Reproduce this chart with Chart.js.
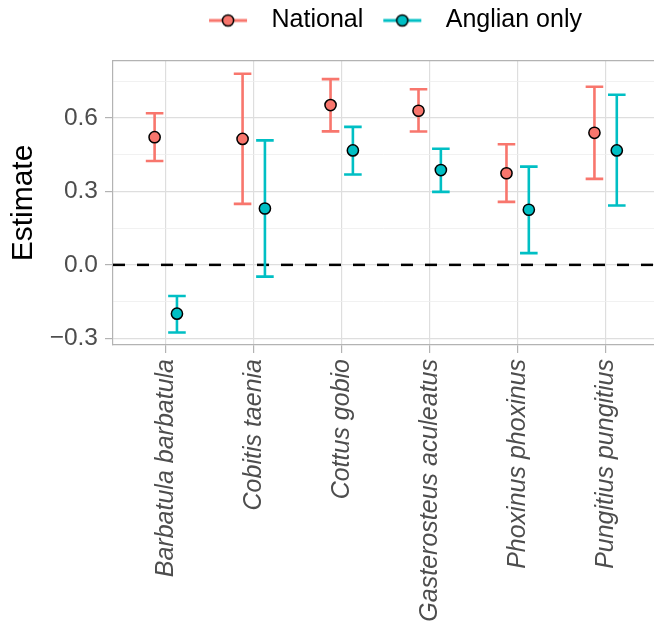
<!DOCTYPE html>
<html>
<head>
<meta charset="utf-8">
<script src="https://cdn.jsdelivr.net/npm/chart.js@4.4.1/dist/chart.umd.min.js"></script>
<style>
    body { margin: 0; background: #fff; }
</style>
</head>
<body>
<canvas id="grafico" width="654" height="625"></canvas>
<script>
// dados
const especies = ["Barbatula barbatula", "Cobitis taenia", "Cottus gobio", "Gasterosteus aculeatus", "Phoxinus phoxinus", "Pungitius pungitius"];
const series = ["National", "Anglian only"];

const nacional = [0.521, 0.514, 0.652, 0.629, 0.374, 0.539];
const nacionalMin = [0.424, 0.249, 0.545, 0.544, 0.257, 0.351];
const nacionalMax = [0.619, 0.780, 0.758, 0.717, 0.492, 0.727];

const anglian = [-0.199, 0.230, 0.467, 0.387, 0.225, 0.467];
const anglianMin = [-0.276, -0.048, 0.369, 0.298, 0.048, 0.242];
const anglianMax = [-0.127, 0.508, 0.563, 0.474, 0.401, 0.694];

const yTicks = [-0.3, 0, 0.3, 0.6];
const yMinor = [-0.15, 0.15, 0.45, 0.75];
const linhaRef = 0;

// estilo
const cores = ["#F8766D", "#00BFC4"];
const dodge = 0.127;
const capMeio = 0.1;
const cinzaBorda = "#B3B3B3";
const cinzaTexto = "#4D4D4D";

Chart.defaults.font.family = '"Liberation Sans", Arial, sans-serif';

function montaPontos(valores, minimos, maximos, desloc) {
    return valores.map((v, i) => ({ x: i + desloc, y: v, yMin: minimos[i], yMax: maximos[i] }));
}

function simboloLegenda(cor) {
    let c = document.createElement("canvas");
    c.width = 62;
    c.height = 20;
    let g = c.getContext("2d");
    g.strokeStyle = cor;
    g.lineWidth = 3;
    g.beginPath();
    g.moveTo(12, 10);
    g.lineTo(50, 10);
    g.stroke();
    g.beginPath();
    g.arc(31, 10, 5.6, 0, 2 * Math.PI);
    g.fillStyle = cor;
    g.fill();
    g.lineWidth = 1.5;
    g.strokeStyle = "#000";
    g.stroke();
    return c;
}

const simbolos = cores.map(simboloLegenda);

// linha do zero e barras de erro, desenhadas antes dos pontos
const barrasDeErro = {
    id: "barrasDeErro",
    afterLayout(chart) {
        // centraliza a legenda um pouco mais a direita, como no original
        chart.legend.left += 6;
        chart.legend.right += 6;
    },
    beforeDatasetsDraw(chart) {
        let ctx = chart.ctx;
        let x = chart.scales.x;
        let y = chart.scales.y;
        let area = chart.chartArea;
        ctx.save();

        ctx.strokeStyle = "#000";
        ctx.lineWidth = 2.5;
        ctx.setLineDash([12, 12]);
        ctx.beginPath();
        ctx.moveTo(area.left, y.getPixelForValue(linhaRef));
        ctx.lineTo(area.right, y.getPixelForValue(linhaRef));
        ctx.stroke();
        ctx.setLineDash([]);

        chart.data.datasets.forEach(ds => {
            ctx.strokeStyle = ds.backgroundColor;
            ctx.lineWidth = 2.6;
            ds.data.forEach(p => {
                let px = x.getPixelForValue(p.x);
                let esq = x.getPixelForValue(p.x - capMeio);
                let dir = x.getPixelForValue(p.x + capMeio);
                let topo = y.getPixelForValue(p.yMax);
                let base = y.getPixelForValue(p.yMin);
                ctx.beginPath();
                ctx.moveTo(px, topo);
                ctx.lineTo(px, base);
                ctx.moveTo(esq, topo);
                ctx.lineTo(dir, topo);
                ctx.moveTo(esq, base);
                ctx.lineTo(dir, base);
                ctx.stroke();
            });
        });
        ctx.restore();
    }
};

const ehMaior = v => yTicks.includes(v);

function semPadding(s) {
    s.paddingLeft = 0;
    s.paddingRight = 0;
    s.paddingTop = 0;
    s.paddingBottom = 0;
}

new Chart("grafico", {
    type: "scatter",
    data: {
        datasets: [
            {
                label: series[0],
                data: montaPontos(nacional, nacionalMin, nacionalMax, -dodge),
                backgroundColor: cores[0],
                borderColor: "#000",
                pointRadius: 5.6,
                pointHoverRadius: 5.6,
                pointBorderWidth: 1.5
            },
            {
                label: series[1],
                data: montaPontos(anglian, anglianMin, anglianMax, dodge),
                backgroundColor: cores[1],
                borderColor: "#000",
                pointRadius: 5.6,
                pointHoverRadius: 5.6,
                pointBorderWidth: 1.5
            }
        ]
    },
    options: {
        responsive: false,
        animation: false,
        layout: { padding: 0, autoPadding: false },
        plugins: {
            tooltip: { enabled: false },
            legend: {
                position: "top",
                fullSize: false,
                labels: {
                    usePointStyle: true,
                    pointStyleWidth: 62,
                    padding: 8,
                    color: "#000",
                    font: { size: 25 },
                    generateLabels: chart => chart.data.datasets.map((ds, i) => ({
                        text: ds.label,
                        pointStyle: simbolos[i],
                        fillStyle: ds.backgroundColor,
                        strokeStyle: "#000",
                        lineWidth: 0,
                        hidden: false,
                        datasetIndex: i,
                        fontColor: "#000"
                    }))
                }
            }
        },
        scales: {
            x: {
                type: "linear",
                min: -0.6,
                max: 5.55,
                afterBuildTicks: s => { s.ticks = especies.map((e, i) => ({ value: i })); },
                afterFit: s => { s.height = 280; semPadding(s); },
                ticks: {
                    callback: v => especies[v],
                    minRotation: 90,
                    maxRotation: 90,
                    autoSkip: false,
                    padding: 6,
                    color: cinzaTexto,
                    font: { size: 25, style: "italic" }
                },
                grid: { color: "#DEDEDE", lineWidth: 1.2, tickLength: 8, tickColor: cinzaBorda },
                border: { color: cinzaBorda, width: 1.2 }
            },
            x2: {
                type: "linear",
                position: "top",
                min: -0.6,
                max: 5.55,
                afterFit: s => { s.height = 18; semPadding(s); },
                ticks: { display: false },
                grid: { display: false },
                border: { color: cinzaBorda, width: 1.2 }
            },
            y: {
                min: -0.327,
                max: 0.832,
                afterBuildTicks: s => {
                    s.ticks = yTicks.concat(yMinor).sort((a, b) => a - b).map(v => ({ value: v }));
                },
                afterFit: s => { s.width = 113; semPadding(s); },
                ticks: {
                    callback: v => ehMaior(v) ? v.toFixed(1).replace("-", "\u2212") : "",
                    padding: 7,
                    color: cinzaTexto,
                    font: { size: 24.5 }
                },
                grid: {
                    color: c => (c.tick && ehMaior(c.tick.value)) ? "#DEDEDE" : "#EEEEEE",
                    lineWidth: c => (c.tick && ehMaior(c.tick.value)) ? 1.2 : 0.8,
                    tickLength: 8,
                    tickColor: c => (c.tick && ehMaior(c.tick.value)) ? cinzaBorda : "rgba(0,0,0,0)"
                },
                border: { color: cinzaBorda, width: 1.2 },
                title: {
                    display: true,
                    text: "Estimate",
                    color: "#000",
                    font: { size: 30 },
                    padding: { top: 6, bottom: 0 }
                }
            }
        }
    },
    plugins: [barrasDeErro]
});
</script>
</body>
</html>
